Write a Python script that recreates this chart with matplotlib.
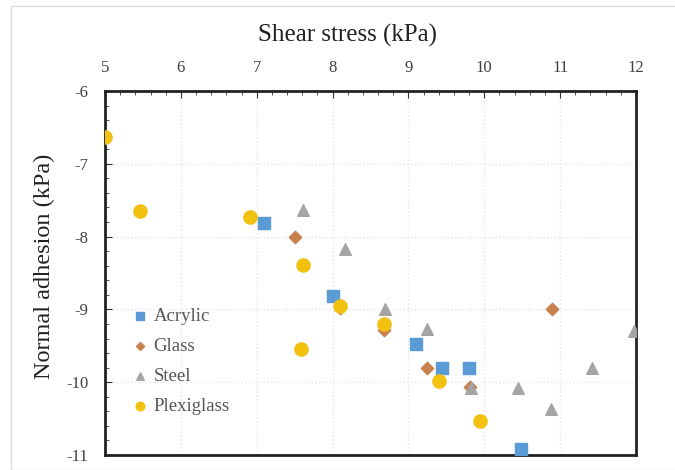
import matplotlib
matplotlib.use("Agg")
import matplotlib.pyplot as plt
from matplotlib.ticker import MultipleLocator
from matplotlib.patches import Rectangle

plt.rcParams['font.family'] = ['Liberation Serif', 'DejaVu Serif']
plt.rcParams['axes.unicode_minus'] = False

# shear stress (x) and normal adhesion (y), kPa
acrylic_x = [7.10, 8.00, 9.10, 9.44, 9.80, 10.49]
acrylic_y = [-7.81, -8.81, -9.47, -9.81, -9.81, -10.92]

glass_x = [7.51, 8.10, 8.68, 9.25, 9.81, 10.89]
glass_y = [-8.01, -8.98, -9.28, -9.81, -10.07, -8.99]

steel_x = [7.61, 8.16, 8.69, 9.25, 9.83, 10.44, 10.88, 11.42, 11.97]
steel_y = [-7.63, -8.17, -9.00, -9.27, -10.08, -10.08, -10.37, -9.81, -9.29]

plexi_x = [5.00, 5.46, 6.91, 7.61, 8.10, 7.58, 8.68, 9.40, 9.94]
plexi_y = [-6.63, -7.65, -7.73, -8.39, -8.95, -9.54, -9.20, -9.99, -10.53]

fig = plt.figure(figsize=(6.75, 4.7), dpi=100)
fig.patches.append(Rectangle((11 / 675, 0), 1, 1 - 6 / 470, transform=fig.transFigure,
                             fill=False, edgecolor='#dddddd', linewidth=1))
ax = fig.add_axes([105 / 675, 15 / 470, 531 / 675, 364 / 470])

ax.scatter(acrylic_x, acrylic_y, marker='s', s=70, color='#5b9bd5', label='Acrylic', zorder=3)
ax.scatter(glass_x, glass_y, marker='D', s=40, color='#c9804f', label='Glass', zorder=3)
ax.scatter(steel_x, steel_y, marker='^', s=70, color='#a5a5a5', label='Steel', zorder=3)
ax.scatter(plexi_x, plexi_y, marker='o', s=90, color='#f2c10f', label='Plexiglass', zorder=3)

ax.set_xlim(5, 12)
ax.set_ylim(-11, -6)
ax.xaxis.tick_top()
ax.xaxis.set_major_locator(MultipleLocator(1))
ax.xaxis.set_minor_locator(MultipleLocator(0.2))
ax.yaxis.set_major_locator(MultipleLocator(1))
ax.yaxis.set_minor_locator(MultipleLocator(0.2))
ax.tick_params(which='both', direction='in', color='#333333')
ax.tick_params(which='major', length=5, labelsize=12, labelcolor='#404040')
ax.tick_params(which='minor', length=3)
ax.tick_params(axis='x', pad=11)
ax.tick_params(axis='y', pad=12)
for s in ax.spines.values():
    s.set_linewidth(2)
    s.set_color('#222222')

ax.grid(True, which='major', color='#e4e4e4', linestyle=':', linewidth=1)
fig.text(348 / 675, 1 - 35 / 470, 'Shear stress (kPa)', fontsize=18,
         ha='center', va='center', color='#222222')
fig.text(44 / 675, 1 - 266 / 470, 'Normal adhesion (kPa)', fontsize=17.5,
         ha='center', va='center', rotation=90, color='#222222')

ax.legend(loc='upper left', bbox_to_anchor=(0.012, 0.45), frameon=False, fontsize=13.5,
          handletextpad=0.05, labelspacing=0.68, markerscale=0.65, labelcolor='#555555',
          handlelength=1.3)

fig.savefig('out.png', dpi=100)
